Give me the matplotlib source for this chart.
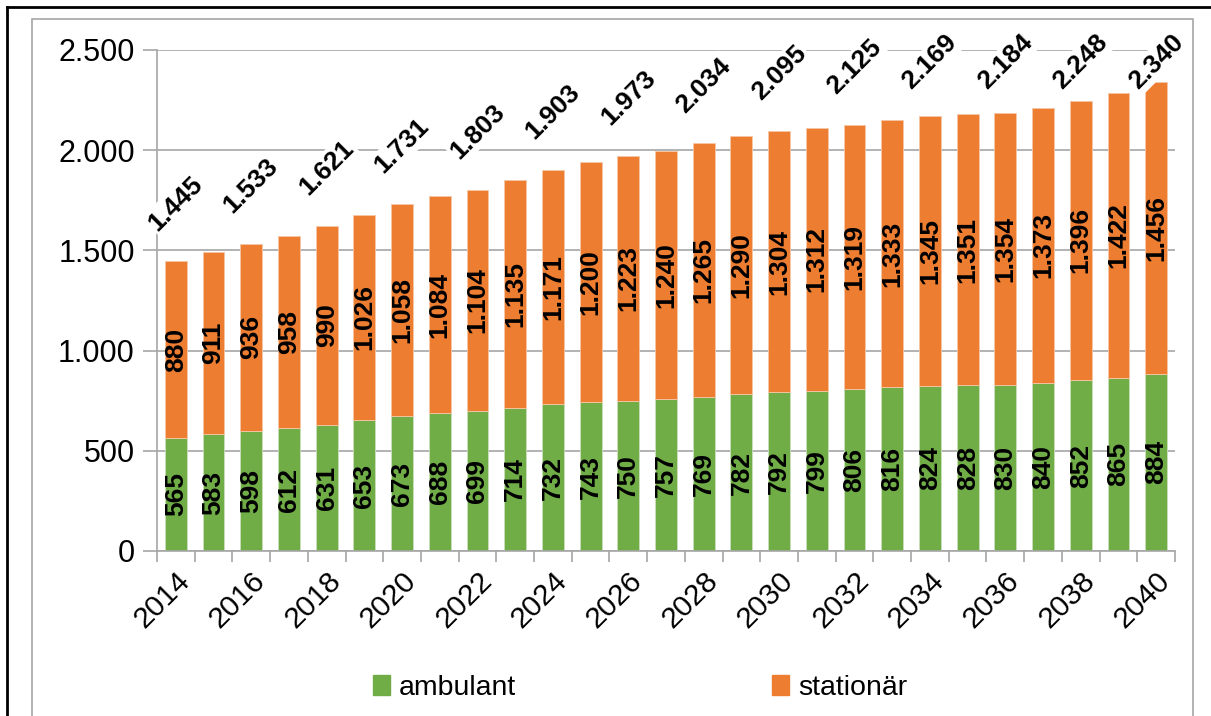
import matplotlib.pyplot as plt
from matplotlib.ticker import FuncFormatter
from matplotlib.lines import Line2D
from matplotlib.patches import Rectangle, Patch

plt.rcParams['font.family'] = ['Liberation Sans', 'DejaVu Sans']

years = list(range(2014, 2041))
ambulant = [565, 583, 598, 612, 631, 653, 673, 688, 699, 714, 732, 743, 750, 757,
            769, 782, 792, 799, 806, 816, 824, 828, 830, 840, 852, 865, 884]
stationaer = [880, 911, 936, 958, 990, 1026, 1058, 1084, 1104, 1135, 1171, 1200, 1223, 1240,
              1265, 1290, 1304, 1312, 1319, 1333, 1345, 1351, 1354, 1373, 1396, 1422, 1456]
# totals as printed on the chart (every second year)
total_labels = {2014: 1445, 2016: 1533, 2018: 1621, 2020: 1731, 2022: 1803, 2024: 1903,
                2026: 1973, 2028: 2034, 2030: 2095, 2032: 2125, 2034: 2169, 2036: 2184,
                2038: 2248, 2040: 2340}

green = '#70AD47'
orange = '#ED7D31'
grey = '#A6A6A6'


def de(v):
    return f'{v:,.0f}'.replace(',', '.')


fig = plt.figure(figsize=(12.11, 7.16), dpi=100)
ax = fig.add_axes([157 / 1211, 1 - 551 / 716, (1175 - 157) / 1211, 501 / 716])

x = list(range(len(years)))
w = 0.58
ax.bar(x, ambulant, w, color=green, edgecolor='#C9DFBA', linewidth=0.6, zorder=2)
ax.bar(x, stationaer, w, bottom=ambulant, color=orange, edgecolor='#F6C7A6', linewidth=0.6, zorder=2)

for i in x:
    ax.text(i, ambulant[i] / 2, de(ambulant[i]), rotation=90, ha='center', va='center',
            fontsize=19, fontweight='bold', zorder=3)
    ax.text(i, ambulant[i] + stationaer[i] / 2, de(stationaer[i]), rotation=90,
            ha='center', va='center', fontsize=19, fontweight='bold', zorder=3)

for yr, tot in total_labels.items():
    i = years.index(yr)
    ypos = min(tot + 290, 2440)
    ax.text(i, ypos, de(tot), rotation=45, ha='center', va='center', fontsize=19,
            fontweight='bold', zorder=4, clip_on=False,
            bbox=dict(facecolor='white', edgecolor='none', pad=1.5))

ax.set_xlim(-0.5, len(years) - 0.5)
ax.set_ylim(0, 2500)
ax.set_yticks(range(0, 2501, 500))
ax.yaxis.set_major_formatter(FuncFormatter(lambda v, p: de(v)))
ax.yaxis.grid(True, color=grey, linewidth=1.2, zorder=0)
ax.set_axisbelow(True)

ax.set_xticks(x[::2])
ax.set_xticklabels([str(y) for y in years[::2]], rotation=45, ha='right',
                   rotation_mode='anchor')
ax.set_xticks([i - 0.5 for i in range(len(years) + 1)], minor=True)
ax.tick_params(axis='x', which='major', length=0, pad=11, labelsize=21.5)
ax.tick_params(axis='x', which='minor', length=8, width=1.2, color=grey, direction='out')
ax.tick_params(axis='y', length=10, width=1.2, color=grey, labelsize=22, pad=6)

for s in ['top', 'right']:
    ax.spines[s].set_visible(False)
for s in ['left', 'bottom']:
    ax.spines[s].set_color(grey)
    ax.spines[s].set_linewidth(1.2)

handles = [Patch(color=green, label='ambulant'), Patch(color=orange, label='stationär')]
fig.legend(handles=handles, loc='center', bbox_to_anchor=(640 / 1211, 28 / 716), ncol=2,
           frameon=False, fontsize=20.5, handlelength=0.6, handleheight=0.7,
           handletextpad=0.3, columnspacing=9.0)

# outer frames
fig.add_artist(Line2D([7 / 1211, 7 / 1211], [0, 1 - 7 / 716], color='black', lw=2))
fig.add_artist(Line2D([7 / 1211, 1], [1 - 7 / 716, 1 - 7 / 716], color='black', lw=2))
fig.add_artist(Rectangle((32 / 1211, -0.05), (1193 - 32) / 1211, 1.05 - 19 / 716,
                         transform=fig.transFigure, fill=False, edgecolor=grey, lw=1.2))

fig.savefig('out.png', dpi=100)
